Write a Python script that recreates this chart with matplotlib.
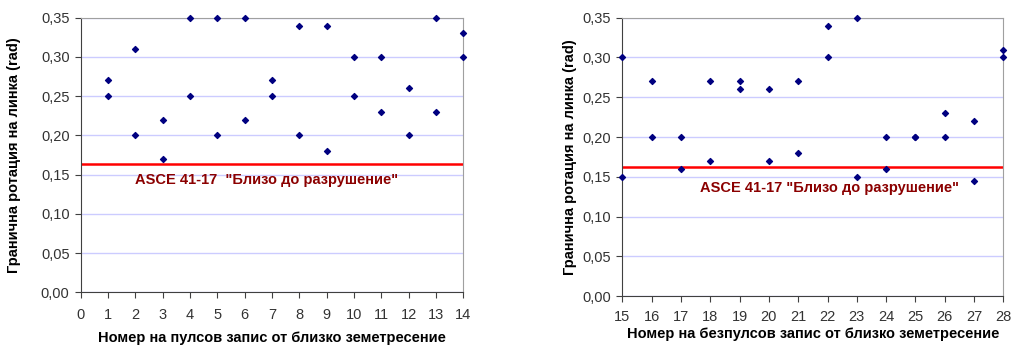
import matplotlib.pyplot as plt
from matplotlib.ticker import FuncFormatter, MultipleLocator

plt.rcParams['font.family'] = ['Liberation Sans', 'DejaVu Sans']

# Пулсови записи (1-14), по две стойности на запис
pulse_rec = [1, 1, 2, 2, 3, 3, 4, 4, 5, 5, 6, 6, 7, 7,
             8, 8, 9, 9, 10, 10, 11, 11, 12, 12, 13, 13, 14, 14]
pulse_rot = [0.27, 0.25, 0.31, 0.20, 0.22, 0.17, 0.35, 0.25, 0.35, 0.20,
             0.35, 0.22, 0.27, 0.25, 0.34, 0.20, 0.34, 0.18, 0.30, 0.25,
             0.30, 0.23, 0.26, 0.20, 0.35, 0.23, 0.33, 0.30]

# Безпулсови записи (15-28)
nonpulse_rec = [15, 15, 16, 16, 17, 17, 18, 18, 19, 19, 20, 20, 21, 21,
                22, 22, 23, 23, 24, 24, 25, 25, 26, 26, 27, 27, 28, 28]
nonpulse_rot = [0.30, 0.15, 0.27, 0.20, 0.20, 0.16, 0.27, 0.17, 0.27, 0.26,
                0.26, 0.17, 0.27, 0.18, 0.34, 0.30, 0.35, 0.15, 0.20, 0.16,
                0.20, 0.20, 0.23, 0.20, 0.22, 0.145, 0.31, 0.30]

asce_limit = 0.163
ylabel = "Гранична ротация на линка (rad)"


def comma_fmt(v, pos):
    return f"{v:.2f}".replace(".", ",")


def setup(ax, xs, ys, xlim, xlabel, text_xy, label, ypad, xpad, tpad):
    ax.scatter(xs, ys, marker="D", s=9, color="#000080", zorder=3, clip_on=False)
    ax.axhline(asce_limit, color="#ff0000", lw=1.8, zorder=2)
    ax.text(text_xy[0], text_xy[1], label, color="#8b0000", fontsize=10.5,
            fontweight="bold", ha="left", va="center")
    ax.set_xlim(*xlim)
    ax.set_ylim(0, 0.35)
    ax.xaxis.set_major_locator(MultipleLocator(1))
    ax.yaxis.set_major_locator(MultipleLocator(0.05))
    ax.yaxis.set_major_formatter(FuncFormatter(comma_fmt))
    ax.grid(axis="y", color="#ccccff", lw=1)
    ax.set_axisbelow(True)
    for s in ["top", "right"]:
        ax.spines[s].set_color("#a0a0a0")
    for s in ["left", "bottom"]:
        ax.spines[s].set_color("#404040")
    ax.tick_params(direction="out", length=4, color="#404040",
                   labelsize=10.5, labelcolor="#333333")
    ax.tick_params(axis="x", pad=tpad)
    ax.tick_params(axis="y", pad=4)
    ax.set_xlabel(xlabel, fontsize=10.5, fontweight="bold", labelpad=xpad)
    ax.set_ylabel(ylabel, fontsize=10.5, fontweight="bold", labelpad=ypad)


fig = plt.figure(figsize=(10.12, 3.45), dpi=100)
ax1 = fig.add_axes([0.0797, 0.1528, 0.378, 0.796])
ax2 = fig.add_axes([0.615, 0.1412, 0.3765, 0.8075])

setup(ax1, pulse_rec, pulse_rot, (0, 14),
      "Номер на пулсов запис от близко земетресение", (2.0, 0.143),
      'ASCE 41-17  "Близо до разрушение"', 14, 7, 7)
setup(ax2, nonpulse_rec, nonpulse_rot, (15, 28),
      "Номер на безпулсов запис от близко земетресение", (17.65, 0.136),
      'ASCE 41-17 "Близо до разрушение"', 4, 2, 6)

fig.savefig("out.png", dpi=100)
